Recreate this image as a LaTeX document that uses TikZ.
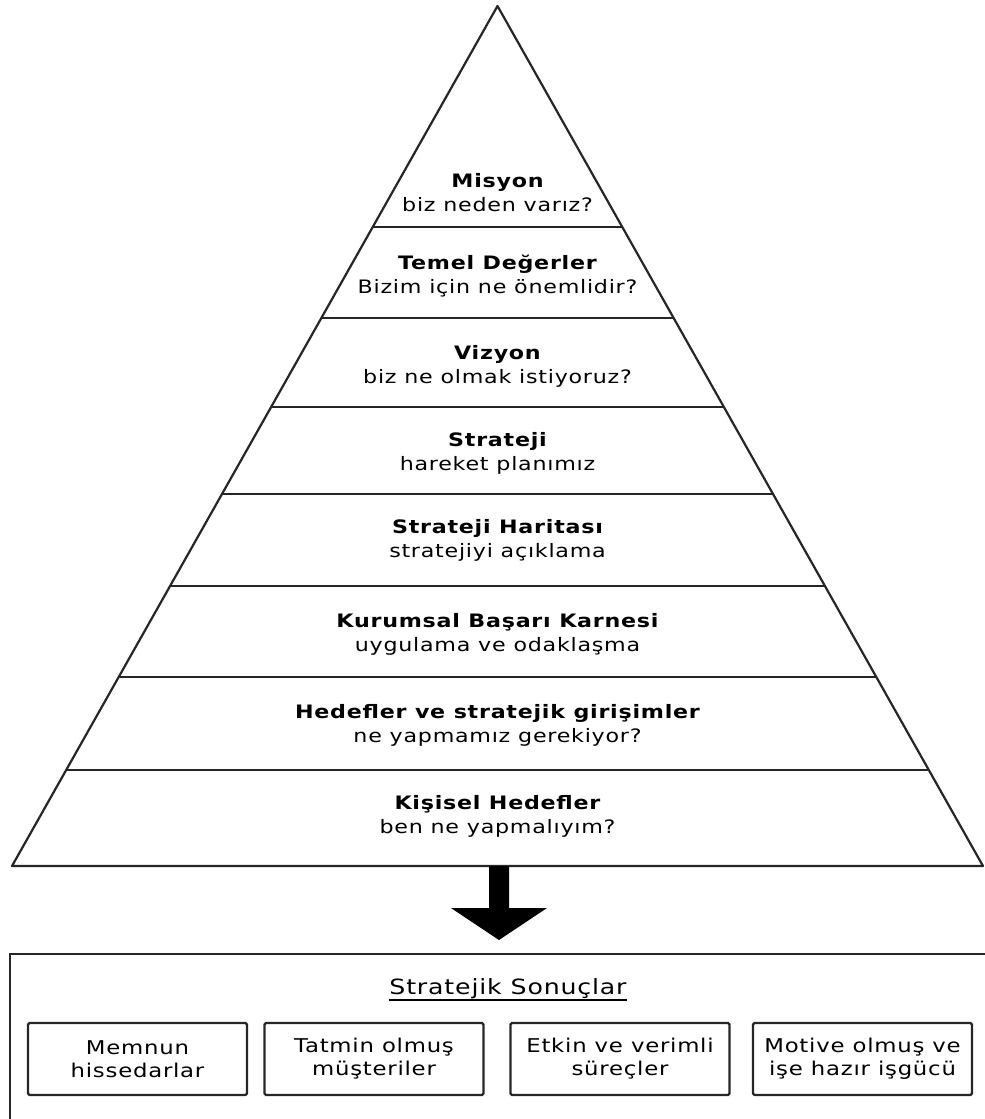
\documentclass[tikz,border=0pt]{standalone}
\usepackage{fontspec}
\setmainfont{DejaVu Sans}[FakeStretch=1.2, LetterSpace=4]
\usetikzlibrary{calc}

\begin{document}
\begin{tikzpicture}[x=1pt,y=-1pt,
  edge/.style={line width=2.2pt, line join=round, draw=black!85},
  tier/.style={align=center, inner sep=0pt, font=\fontsize{18.5}{24}\selectfont},
  outcome/.style={draw=black!85, line width=2.2pt, rounded corners=1.5pt,
    minimum width=219pt, minimum height=72pt, inner sep=0pt,
    align=center, font=\fontsize{19}{23}\selectfont}]
\useasboundingbox (0,0) rectangle (985,1119);

% pyramid outline
\coordinate (apex) at (497.5,6);
\coordinate (bl) at (12,866);
\coordinate (br) at (983,866);
\draw[edge] (apex) -- (br) -- (bl) -- cycle;

% horizontal dividers between the tiers
\foreach \t [count=\i] in {0.2570,0.3628,0.4663,0.5674,0.6744,0.7802,0.8884}{
  \coordinate (dl\i) at ($(apex)!\t!(bl)$);
  \coordinate (dr\i) at ($(apex)!\t!(br)$);
  \draw[edge] (dl\i) -- (dr\i);
}

% tier labels
\node[tier] (t1) at (497.5,193)   {{\bfseries Misyon}\\biz neden varız?};
\node[tier] (t2) at (497.5,276)   {{\bfseries Temel Değerler}\\Bizim için ne önemlidir?};
\node[tier] (t3) at (497.5,366.5) {{\bfseries Vizyon}\\biz ne olmak istiyoruz?};
\node[tier] (t4) at (497.5,453)   {{\bfseries Strateji}\\hareket planımız};
\node[tier] (t5) at (497.5,540.5) {{\bfseries Strateji Haritası}\\stratejiyi açıklama};
\node[tier] (t6) at (497.5,634)   {{\bfseries Kurumsal Başarı Karnesi}\\uygulama ve odaklaşma};
\node[tier] (t7) at (497.5,725)   {{\bfseries Hedefler ve stratejik girişimler}\\ne yapmamız gerekiyor?};
\node[tier] (t8) at (497.5,816)   {{\bfseries Kişisel Hedefler}\\ben ne yapmalıyım?};

% results frame
\node[draw=black!85, line width=2.2pt, anchor=north west, inner sep=0pt,
  minimum width=990pt, minimum height=175pt] (results) at (9,953) {};

% block arrow from the pyramid base down to the results frame
\coordinate (atop) at (499,866);
\coordinate (atip) at (499,940);
\fill[black] ($(atop)+(-10,0)$) -- ($(atop)+(10,0)$) -- ($(atop)+(10,42)$)
  -- ($(atop)+(48,42)$) -- (atip) -- ($(atop)+(-48,42)$)
  -- ($(atop)+(-10,42)$) -- cycle;

% heading of the results frame
\node[anchor=base, inner sep=0pt, font=\fontsize{21}{24}\selectfont] (head)
  at (508,994) {Stratejik Sonuçlar};
\draw[line width=1.4pt] ($(head.base west)+(0,6)$) -- ($(head.base east)+(0,6)$);

% outcome boxes
\node[outcome] (o1) at (137.5,1059) {Memnun\\hissedarlar};
\node[outcome] (o2) at (374,1059)   {Tatmin olmuş\\müşteriler};
\node[outcome] (o3) at (620,1059)   {Etkin ve verimli\\süreçler};
\node[outcome] (o4) at (862.5,1059) {Motive olmuş ve\\işe hazır işgücü};
\end{tikzpicture}
\end{document}
